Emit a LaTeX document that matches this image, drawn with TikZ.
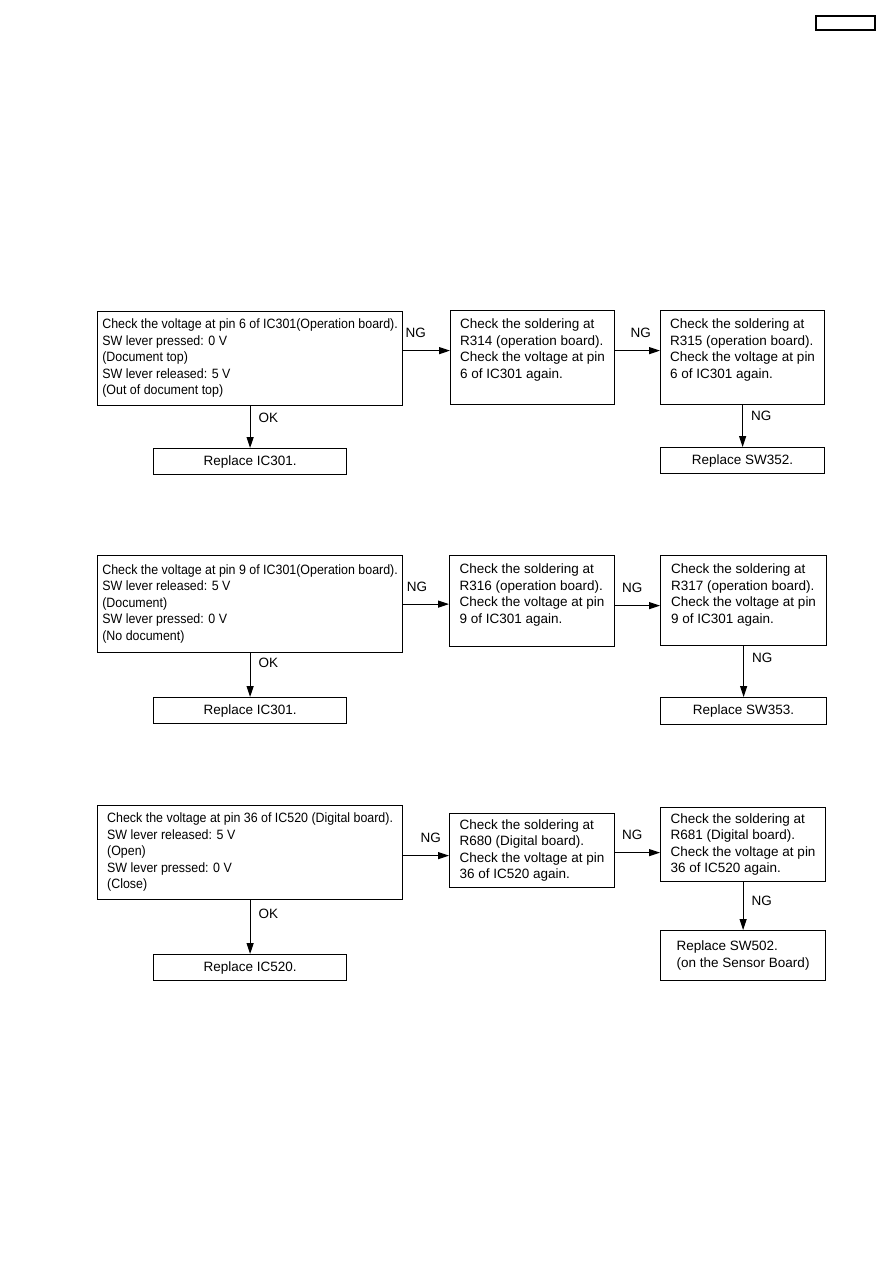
\documentclass[tikz,border=0pt]{standalone}
\usepackage{fontspec}
\setmainfont{Liberation Sans}
\newfontfamily\narrowfont[FakeStretch=0.92]{Liberation Sans}
\usetikzlibrary{positioning,arrows.meta}
\newcommand{\boxlines}[2][0pt]{%
  \raisebox{#1}[\height][\depth]{\begin{tabular}{@{}l@{}}#2\end{tabular}}}

\begin{document}
\begin{tikzpicture}[x=1pt,y=-1pt,
  font=\fontsize{13.5}{16.5}\selectfont,
  box/.style={draw,line width=1.2pt,anchor=north west,inner sep=0pt},
  arr/.style={line width=1.1pt,-{Triangle[length=11pt,width=7pt]}},
  lbl/.style={inner sep=0pt}]
  \fill[white] (0,0) rectangle (893,1263);
  \useasboundingbox (0,0) rectangle (893,1263);
  \draw[line width=1.3pt] (816,16) rectangle (875,30);

  % pin 6 of IC301
  \node[box,minimum width=305pt,minimum height=94pt] (a1) at (97,311)
    {\narrowfont\boxlines{Check the voltage at pin 6 of IC301(Operation board).\\
      SW lever pressed: 0 V\\ (Document top)\\ SW lever released: 5 V\\ (Out of document top)}};
  \node[box,minimum width=164pt,minimum height=94pt] (b1) at (450,310)
    {\boxlines[7.5pt]{Check the soldering at\\ R314 (operation board).\\
      Check the voltage at pin\\ 6 of IC301 again.}};
  \node[box,minimum width=164pt,minimum height=94pt] (c1) at (660,310)
    {\boxlines[7.5pt]{Check the soldering at\\ R315 (operation board).\\
      Check the voltage at pin\\ 6 of IC301 again.}};
  \node[box,minimum width=193pt,minimum height=26pt] (r1) at (153,448) {Replace IC301.};
  \node[box,minimum width=164pt,minimum height=26pt] (s1) at (660,447) {Replace SW352.};

  \draw[arr] ([yshift=8pt]a1.east) -- ([yshift=8pt]a1.east -| b1.west)
    node[lbl,above=12pt,pos=0.27] {NG};
  \draw[arr] ([yshift=7pt]b1.east) -- ([yshift=7pt]b1.east -| c1.west)
    node[lbl,above=12pt,pos=0.57] {NG};
  \draw[arr] (a1.south) -- (r1.north) node[lbl,right=8pt,pos=0.27] {OK};
  \draw[arr] (c1.south) -- (s1.north) node[lbl,right=8pt,pos=0.26] {NG};

  % pin 9 of IC301
  \node[box,minimum width=305pt,minimum height=97pt] (a2) at (97,555)
    {\narrowfont\boxlines{Check the voltage at pin 9 of IC301(Operation board).\\
      SW lever released: 5 V\\ (Document)\\ SW lever pressed: 0 V\\ (No document)}};
  \node[box,minimum width=165pt,minimum height=91pt] (b2) at (449,555)
    {\boxlines[6pt]{Check the soldering at\\ R316 (operation board).\\
      Check the voltage at pin\\ 9 of IC301 again.}};
  \node[box,minimum width=166pt,minimum height=90pt] (c2) at (660,555)
    {\boxlines[5.5pt]{Check the soldering at\\ R317 (operation board).\\
      Check the voltage at pin\\ 9 of IC301 again.}};
  \node[box,minimum width=193pt,minimum height=26pt] (r2) at (153,697) {Replace IC301.};
  \node[box,minimum width=166pt,minimum height=27pt] (s2) at (660,697) {Replace SW353.};

  \draw[arr] (a2.east) -- (a2.east -| b2.west)
    node[lbl,above=12pt,pos=0.3] {NG};
  \draw[arr] ([yshift=-4.5pt]b2.east) -- ([yshift=-4.5pt]b2.east -| c2.west)
    node[lbl,above=12pt,pos=0.38] {NG};
  \draw[arr] (a2.south) -- (r2.north) node[lbl,right=8pt,pos=0.22] {OK};
  \draw[arr] (c2.south) -- (s2.north) node[lbl,right=8pt,pos=0.22] {NG};

  % pin 36 of IC520
  \node[box,minimum width=305pt,minimum height=94pt] (a3) at (97,805)
    {\narrowfont\boxlines{Check the voltage at pin 36 of IC520 (Digital board).\\
      SW lever released: 5 V\\ (Open)\\ SW lever pressed: 0 V\\ (Close)}};
  \node[box,minimum width=165pt,minimum height=74pt] (b3) at (449,813)
    {\boxlines{Check the soldering at\\ R680 (Digital board).\\
      Check the voltage at pin\\ 36 of IC520 again.}};
  \node[box,minimum width=165pt,minimum height=74pt] (c3) at (660,807)
    {\boxlines{Check the soldering at\\ R681 (Digital board).\\
      Check the voltage at pin\\ 36 of IC520 again.}};
  \node[box,minimum width=193pt,minimum height=26pt] (r3) at (153,954) {Replace IC520.};
  \node[box,minimum width=165pt,minimum height=50pt] (s3) at (660,930)
    {\boxlines{Replace SW502.\\ (on the Sensor Board)}};

  \draw[arr] ([yshift=-3pt]a3.east) -- ([yshift=-3pt]a3.east -| b3.west)
    node[lbl,above=12pt,pos=0.6] {NG};
  \draw[arr] ([yshift=-2pt]b3.east) -- ([yshift=-2pt]b3.east -| c3.west)
    node[lbl,above=12pt,pos=0.38] {NG};
  \draw[arr] (a3.south) -- (r3.north) node[lbl,right=8pt,pos=0.25] {OK};
  \draw[arr] (c3.south) -- (s3.north) node[lbl,right=8pt,pos=0.39] {NG};
\end{tikzpicture}
\end{document}
